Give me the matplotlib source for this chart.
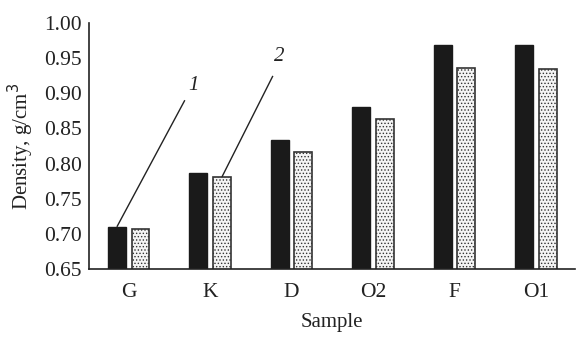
import matplotlib
matplotlib.use("Agg")
import matplotlib.pyplot as plt
import numpy as np

categories = ["G", "K", "D", "O2", "F", "O1"]
series1 = [0.710, 0.787, 0.833, 0.880, 0.968, 0.969]
series2 = [0.707, 0.781, 0.817, 0.863, 0.936, 0.935]
yticks = [0.65, 0.70, 0.75, 0.80, 0.85, 0.90, 0.95, 1.00]

plt.rcParams['font.family'] = ['Liberation Serif', 'DejaVu Serif']
plt.rcParams['hatch.color'] = '#888888'
plt.rcParams['hatch.linewidth'] = 0.6

fig = plt.figure(figsize=(5.88, 3.41), dpi=100)
ax = fig.add_axes([0.151, 0.211, 0.827, 0.722])

x = np.arange(len(categories))
w = 0.22
off = 0.145
ax.bar(x - off, series1, width=w, bottom=0, color='#1a1a1a', edgecolor='#1a1a1a', linewidth=1.0)
ax.bar(x + off, series2, width=w, bottom=0, color='#f4f4f4', edgecolor='#333333', linewidth=1.2, hatch='.....')

ax.set_ylim(0.65, 1.00)
ax.set_xlim(-0.49, 5.48)
ax.set_yticks(yticks)
ax.set_yticklabels([f"{v:.2f}" for v in yticks])
ax.set_xticks(x)
ax.set_xticklabels(categories)
ax.tick_params(axis='both', length=0, labelsize=15.5, colors='#222222')
ax.tick_params(axis='y', pad=5)
ax.tick_params(axis='x', pad=10)
for s in ['top', 'right']:
    ax.spines[s].set_visible(False)
for s in ['left', 'bottom']:
    ax.spines[s].set_linewidth(1.2)
    ax.spines[s].set_color('#222222')

ax.set_ylabel("Density, g/cm$^3$", fontsize=15, color='#222222', labelpad=6)
ax.set_xlabel("Sample", fontsize=15, color='#222222', labelpad=8)

# leader lines with labels
ax.plot([x[0] - off, 0.689], [series1[0], 0.890], color='#222222', lw=1.0, solid_capstyle='butt')
ax.text(0.79, 0.898, "1", fontsize=15, style='italic', ha='center', va='bottom', color='#222222')
ax.plot([x[1] + off, 1.77], [series2[1], 0.9246], color='#222222', lw=1.0, solid_capstyle='butt')
ax.text(1.845, 0.938, "2", fontsize=15, style='italic', ha='center', va='bottom', color='#222222')

fig.savefig("out.png", dpi=100)
